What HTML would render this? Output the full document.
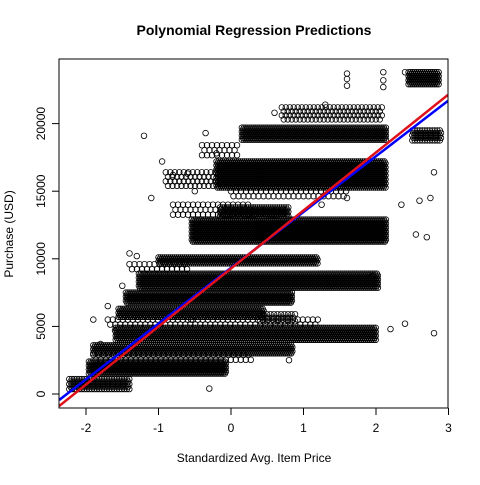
<!DOCTYPE html>
<html><head><meta charset="utf-8"><style>
body{margin:0;background:#fff;}
svg text{font-family:"Liberation Sans",Arial,sans-serif;}
</style></head><body>
<svg id="chart" width="480" height="480" viewBox="0 0 480 480" xmlns="http://www.w3.org/2000/svg">
<rect width="480" height="480" fill="#fff"/>
<text x="254" y="35" text-anchor="middle" font-size="14" font-weight="bold">Polynomial Regression Predictions</text>
<text x="254" y="462" text-anchor="middle" font-size="12">Standardized Avg. Item Price</text>
<text transform="translate(13,234) rotate(-90)" text-anchor="middle" font-size="12">Purchase (USD)</text>
<g id="points"></g>
<g id="lines"></g>
<g id="axes"></g>
<rect x="59" y="59" width="389" height="349" fill="none" stroke="#000" stroke-width="1"/>
</svg>
<script>
// Bands of observations: [xMin, xMax, yMin, yMax, spacingPx]
const bandXMin = [2.45, 0.15, 0.7, 2.5, -0.2, -0.9, -0.54, -0.15, -1.0, -1.27, -1.45, -1.55, 0.4, -1.59, -1.9, -1.96, -2.23, -0.4, -1.4, -0.8, -1.7, -1.9, 0.0];
const bandXMax = [2.87, 2.14, 2.1, 2.9, 2.14, -0.2, 2.14, 0.8, 1.2, 2.04, 0.85, 0.45, 0.9, 2.0, 0.85, -0.07, -1.4, 0.1, -0.6, 0.3, 1.2, 0.3, 1.6];
const bandYMin = [22800, 18800, 20100, 18600, 15200, 15400, 11200, 13100, 9600, 7800, 6700, 5700, 5200, 3900, 2900, 1500, 300, 17600, 8900, 12900, 5000, 2500, 14300];
const bandYMax = [23800, 19700, 21200, 19500, 17200, 16400, 12900, 13800, 10100, 8900, 7500, 6300, 5900, 4900, 3600, 2400, 1100, 18400, 9600, 14000, 5500, 2900, 15000];
const bandGap = [2, 2, 4, 2.5, 2, 4.5, 2, 2.2, 2, 2, 2, 2, 3.5, 2, 2, 2, 2.5, 5, 5, 5, 5, 5, 5];
// Isolated / sparse observations
const ptX = [-1.2, -0.3, 1.3, 1.6, 1.6, 1.6, 2.1, 2.1, 2.1, 2.4, 2.8, 2.75, 2.8, -1.9, -1.7, -1.5, -1.6, -0.8, -0.95, -0.6, -0.35, 0.6, 1.25, 1.6, 2.35, 2.6, 2.55, 2.7, -1.1, -1.4, 0.45, 0.8, -0.55, 2.4, 1.35, 1.95, 2.2, -1.8, -1.3, -0.5, -0.2];
const ptY = [19100, 400, 21400, 22800, 23300, 23700, 22700, 23200, 23800, 23800, 16400, 14500, 4500, 5500, 6500, 8000, 4700, 16200, 17200, 16300, 19300, 20800, 14000, 14500, 14000, 14300, 11800, 11600, 14500, 10400, 12200, 2500, 5500, 5200, 8000, 8700, 4800, 3700, 10200, 15000, 17800];
const xTicks = [-2, -1, 0, 1, 2, 3];
const yTicks = [0, 5000, 10000, 15000, 20000];
// Regression fits: [intercept, slope]
const redFit = [9282, 4292];
const blueFit = [9335, 4126];

const NS = "http://www.w3.org/2000/svg";
const xS = v => 231 + v * 72.5;
const yS = v => 394 - v * 0.01352;
const pts = document.getElementById('points');
function dot(cx, cy) {
  const c = document.createElementNS(NS, 'circle');
  
  
  c.setAttribute('cx', cx.toFixed(1)); c.setAttribute('cy', cy.toFixed(1));
  c.setAttribute('r', 2.8); c.setAttribute('fill', 'none');
  c.setAttribute('stroke', '#000'); c.setAttribute('stroke-width', '0.8');
  pts.appendChild(c);
}
for (let i = 0; i < bandXMin.length; i++) {
  const x0 = xS(bandXMin[i]), x1 = xS(bandXMax[i]);
  const y0 = yS(bandYMax[i]), y1 = yS(bandYMin[i]);
  const g = bandGap[i];
  let row = 0;
  for (let y = y0; y <= y1 + 0.01; y += g, row++) {
    for (let x = x0 + (row % 2) * g / 2; x <= x1; x += g) dot(x, y);
  }
}
for (let i = 0; i < ptX.length; i++) dot(xS(ptX[i]), yS(ptY[i]));

const lines = document.getElementById('lines');
function fitLine(fit, color, name) {
  const l = document.createElementNS(NS, 'line');
  
  
  const xa = -2.37, xb = 2.99;
  l.setAttribute('x1', xS(xa)); l.setAttribute('y1', yS(fit[0] + fit[1] * xa));
  l.setAttribute('x2', xS(xb)); l.setAttribute('y2', yS(fit[0] + fit[1] * xb));
  l.setAttribute('stroke', color); l.setAttribute('stroke-width', '2.5');
  lines.appendChild(l);
}
fitLine(blueFit, '#0000ff', 'blue-fit-line');
fitLine(redFit, '#e0101a', 'red-fit-line');

const axes = document.getElementById('axes');
const clip = document.createElementNS(NS, 'clipPath');
clip.id = 'pc';
clip.innerHTML = '<rect x="59" y="59" width="389" height="349"/>';
document.getElementById('chart').prepend(clip);
pts.setAttribute('clip-path', 'url(#pc)');
lines.setAttribute('clip-path', 'url(#pc)');
xTicks.forEach(t => {
  const x = xS(t);
  const l = document.createElementNS(NS, 'line');
  
  
  l.setAttribute('x1', x); l.setAttribute('x2', x); l.setAttribute('y1', 408); l.setAttribute('y2', 415);
  l.setAttribute('stroke', '#000');
  axes.appendChild(l);
  const tx = document.createElementNS(NS, 'text');
  
  
  tx.setAttribute('x', x); tx.setAttribute('y', 432); tx.setAttribute('text-anchor', 'middle');
  tx.setAttribute('font-size', '12'); tx.textContent = t;
  axes.appendChild(tx);
});
yTicks.forEach(t => {
  const y = yS(t);
  const l = document.createElementNS(NS, 'line');
  
  
  l.setAttribute('x1', 52); l.setAttribute('x2', 59); l.setAttribute('y1', y); l.setAttribute('y2', y);
  l.setAttribute('stroke', '#000');
  axes.appendChild(l);
  const tx = document.createElementNS(NS, 'text');
  
  
  tx.setAttribute('transform', `translate(45,${y}) rotate(-90)`);
  tx.setAttribute('text-anchor', 'middle'); tx.setAttribute('font-size', '12');
  tx.textContent = t;
  axes.appendChild(tx);
});
</script>
</body></html>
